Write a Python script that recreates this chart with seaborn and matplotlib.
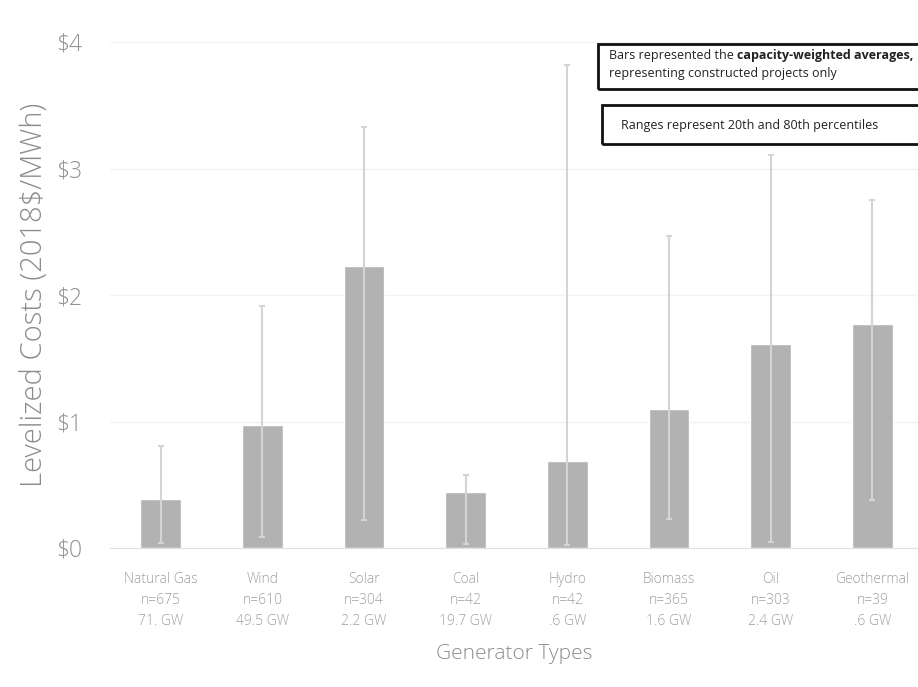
import numpy as np
import pandas as pd
import matplotlib
matplotlib.use('Agg')
import matplotlib.pyplot as plt
from matplotlib.patches import Rectangle
import seaborn as sns

# Dữ liệu
generators = ['Natural Gas', 'Wind', 'Solar', 'Coal', 'Hydro', 'Biomass', 'Oil', 'Geothermal']
n_projects = [675, 610, 304, 42, 42, 365, 303, 39]
capacity = ['71. GW', '49.5 GW', '2.2 GW', '19.7 GW', '.6 GW', '1.6 GW', '2.4 GW', '.6 GW']
avg_cost = [0.39, 0.97, 2.23, 0.44, 0.69, 1.10, 1.61, 1.77]
p20 = [0.04, 0.09, 0.22, 0.03, 0.02, 0.23, 0.05, 0.38]
p80 = [0.81, 1.91, 3.33, 0.58, 3.82, 2.47, 3.11, 2.75]
y_ticks = [0, 1, 2, 3, 4]
y_tick_labels = ['$0', '$1', '$2', '$3', '$4']

df = pd.DataFrame({'gen': generators, 'cost': avg_cost, 'lo': p20, 'hi': p80})

sns.set_style('white')
plt.rcParams['font.family'] = ['Open Sans', 'DejaVu Sans']

fig = plt.figure(figsize=(9.18, 6.87), dpi=100)
ax = fig.add_axes([110 / 918, 139 / 687, 808 / 918, 506 / 687])

sns.barplot(data=df, x='gen', y='cost', color='#b2b2b2', saturation=1,
            width=0.4, errorbar=None, ax=ax, zorder=2)

xs = np.arange(len(generators))
yerr = [df['cost'] - df['lo'], df['hi'] - df['cost']]
ax.errorbar(xs, df['cost'], yerr=yerr, fmt='none', ecolor='#d4d4d4',
            elinewidth=1.5, capsize=2.5, capthick=1.5, zorder=3)

ax.set_ylim(0, 4)
ax.set_xlim(-0.5, 7.45)
ax.set_yticks(y_ticks)
ax.set_yticklabels(y_tick_labels, fontsize=16.5, color='#909090', fontweight='light')
ax.yaxis.grid(True, color='#f3f3f3', lw=1, zorder=0)
ax.set_axisbelow(True)

tick_text = [f'{g}\nn={n}\n{c}' for g, n, c in zip(generators, n_projects, capacity)]
ax.set_xticks(xs)
ax.set_xticklabels(tick_text, fontsize=10, color='#a0a0a0', linespacing=1.55,
                   fontweight='light')
ax.tick_params(axis='both', length=0)
ax.tick_params(axis='x', pad=17)
ax.tick_params(axis='y', pad=20)

for s in ['top', 'right', 'left']:
    ax.spines[s].set_visible(False)
ax.spines['bottom'].set_color('#e0e0e0')

ax.set_xlabel('Generator Types', fontsize=15, color='#8c8c8c', labelpad=11,
              fontweight='light')
ax.set_ylabel('Levelized Costs (2018$/MWh)', fontsize=21, color='#8c8c8c', labelpad=5,
              fontweight='light')

# Hộp chú thích
fig.patches.append(Rectangle((598 / 918, 1 - 89 / 687), 330 / 918, 45 / 687,
                             transform=fig.transFigure, fill=False, ec='#111111', lw=2))
fig.patches.append(Rectangle((602 / 918, 1 - 144 / 687), 330 / 918, 39 / 687,
                             transform=fig.transFigure, fill=False, ec='#111111', lw=2))

t1 = fig.text(609 / 918, 1 - 56 / 687, 'Bars represented the ', fontsize=9,
              color='#222222', va='center', ha='left')
fig.canvas.draw()
ax.annotate('capacity-weighted averages,', xy=(1, 0), xycoords=t1, va='bottom',
            ha='left', fontsize=9, color='#222222', weight='bold')
fig.text(609 / 918, 1 - 74 / 687, 'representing constructed projects only', fontsize=9,
         color='#222222', va='center', ha='left')
fig.text(621 / 918, 1 - 125 / 687, 'Ranges represent 20th and 80th percentiles', fontsize=9,
         color='#222222', va='center', ha='left')

plt.savefig('out.png', dpi=100, facecolor='white')
plt.close()
